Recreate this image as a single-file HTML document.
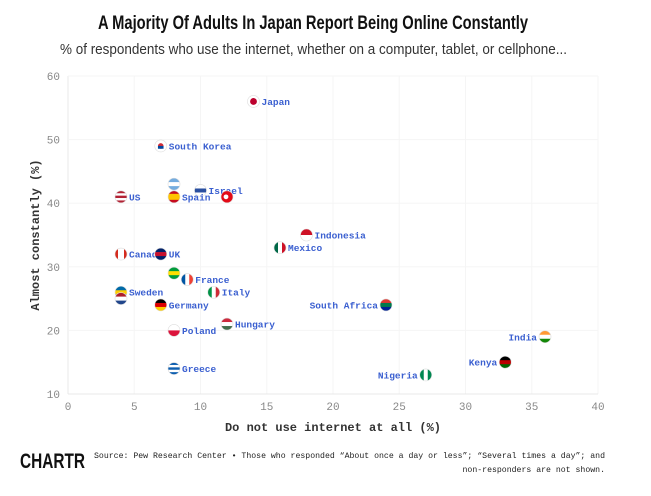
<!DOCTYPE html>
<html><head><meta charset="utf-8"><style>
body{margin:0;background:#fff;width:651px;height:491px;overflow:hidden;font-family:"Liberation Sans",sans-serif}
svg text{font-family:"Liberation Mono",monospace}
</style></head><body>
<svg id="c" width="651" height="491" viewBox="0 0 651 491" xmlns="http://www.w3.org/2000/svg">
<text x="98" y="29" textLength="430" lengthAdjust="spacingAndGlyphs" font-size="19" font-weight="bold" fill="#111" style="font-family:'Liberation Sans',sans-serif">A Majority Of Adults In Japan Report Being Online Constantly</text>
<text x="60" y="54" textLength="507" lengthAdjust="spacingAndGlyphs" font-size="15" fill="#333" style="font-family:'Liberation Sans',sans-serif">% of respondents who use the internet, whether on a computer, tablet, or cellphone...</text>
<g id="grid"></g><g id="pts"></g>
<text x="333" y="431" text-anchor="middle" font-size="12" font-weight="bold" fill="#333">Do not use internet at all (%)</text>
<text transform="translate(39,235) rotate(-90)" text-anchor="middle" font-size="12" font-weight="bold" fill="#333">Almost constantly (%)</text>
<text x="20" y="468" textLength="65" lengthAdjust="spacingAndGlyphs" font-size="21" font-weight="bold" fill="#111" style="font-family:'Liberation Sans',sans-serif">CHARTR</text>
<text x="605" y="458" text-anchor="end" font-size="8.2" fill="#222">Source: Pew Research Center • Those who responded “About once a day or less”; “Several times a day”; and</text>
<text x="605" y="472" text-anchor="end" font-size="8.2" fill="#222">non-responders are not shown.</text>
</svg>
<script>
const countries=["Japan","South Korea","Argentina","Israel","US","Spain","Turkey","Indonesia","Mexico","Canada","UK","Brazil","France","Sweden","Netherlands","Italy","Germany","South Africa","Hungary","Poland","India","Kenya","Greece","Nigeria"];
const notOnline=[14,7,8,10,4,8,12,18,16,4,7,8,9,4,4,11,7,24,12,8,36,33,8,27];
const constantly=[56,49,43,42,41,41,41,35,33,32,32,29,28,26,25,26,24,24,21,20,19,15,14,13];
const showLabel=[1,1,0,1,1,1,0,1,1,1,1,0,1,1,0,1,1,1,1,1,1,1,1,1];
const labelLeft=[0,0,0,0,0,0,0,0,0,0,0,0,0,0,0,0,0,1,0,0,1,1,0,1];
const xTicks=[0,5,10,15,20,25,30,35,40];
const yTicks=[10,20,30,40,50,60];
const flags={Japan:["h","#fff"],"South Korea":["h","#fff","#fff"],Argentina:["h","#74acdf","#fff","#74acdf"],Israel:["h","#fff","#2a4fa0","#fff"],US:["h","#b22234","#fff","#b22234","#fff","#b22234"],Spain:["h","#c60b1e","#ffc400","#ffc400","#c60b1e"],Turkey:["h","#e30a17"],Indonesia:["h","#ce1126","#fff"],Mexico:["v","#006847","#fff","#ce1126"],Canada:["v","#d52b1e","#fff","#fff","#d52b1e"],UK:["h","#012169","#c8102e","#012169"],Brazil:["h","#009c3b","#ffdf00","#009c3b"],France:["v","#0055a4","#fff","#ef4135"],Sweden:["h","#006aa7","#fecc00","#006aa7"],Netherlands:["h","#ae1c28","#fff","#21468b"],Italy:["v","#009246","#fff","#ce2b37"],Germany:["h","#000","#dd0000","#ffce00"],"South Africa":["h","#de3831","#007a4d","#002395"],Hungary:["h","#cd2a3e","#fff","#436f4d"],Poland:["h","#fff","#dc143c"],India:["h","#ff9933","#fff","#138808"],Kenya:["h","#000","#bb0000","#006600"],Greece:["h","#0d5eaf","#fff","#0d5eaf","#fff","#0d5eaf"],Nigeria:["v","#008751","#fff","#008751"]};
const NS="http://www.w3.org/2000/svg";
const X0=68,X1=598,Y0=394,Y1=76;
const xs=v=>X0+(v-0)/(40-0)*(X1-X0);
const ys=v=>Y0-(v-10)/(60-10)*(Y0-Y1);
function mk(t,a,p){const e=document.createElementNS(NS,t);for(const k in a)e.setAttribute(k,a[k]);p.appendChild(e);return e;}
const g=document.getElementById('grid'),P=document.getElementById('pts');
xTicks.forEach(t=>{const l=mk('line',{x1:xs(t),x2:xs(t),y1:Y1,y2:Y0,stroke:t===0?'#e8e8e8':'#f5f5f5'},g);


const tx=mk('text',{x:xs(t),y:Y0+16,'text-anchor':'middle','font-size':11,fill:'#888'},g);tx.textContent=t;

});
yTicks.forEach(t=>{const l=mk('line',{x1:X0,x2:X1,y1:ys(t),y2:ys(t),stroke:t===10?'#e8e8e8':'#f5f5f5'},g);


const tx=mk('text',{x:X0-8,y:ys(t)+4,'text-anchor':'end','font-size':11,fill:'#888'},g);tx.textContent=t;

});
const defs=mk('defs',{},P);
countries.forEach((c,i)=>{
 const cx=xs(notOnline[i]),cy=ys(constantly[i]),r=6;
 const gr=mk('g',{},P);
 
 
 const cp=mk('clipPath',{id:'cp'+i},defs);mk('circle',{cx:cx,cy:cy,r:r},cp);
 const f=flags[c],dir=f[0],cols=f.slice(1),n=cols.length;
 const fg=mk('g',{'clip-path':'url(#cp'+i+')'},gr);
 cols.forEach((col,k)=>{ if(dir==='h')mk('rect',{x:cx-r,y:cy-r+2*r*k/n,width:2*r,height:2*r/n+0.3,fill:col},fg);
  else mk('rect',{x:cx-r+2*r*k/n,y:cy-r,width:2*r/n+0.3,height:2*r,fill:col},fg);});
 if(c==='Japan')mk('circle',{cx:cx,cy:cy,r:3.4,fill:'#bc002d'},fg);
 if(c==='South Korea'){mk('circle',{cx:cx,cy:cy,r:2.8,fill:'#cd2e3a'},fg);mk('rect',{x:cx-2.8,y:cy,width:5.6,height:2.8,fill:'#0047a0'},fg);}
 if(c==='Turkey')mk('circle',{cx:cx-1,cy:cy,r:2.4,fill:'#fff'},fg);
 mk('circle',{cx:cx,cy:cy,r:r,fill:'none',stroke:'#ddd','stroke-width':0.6},gr);
 if(showLabel[i]){const tx=mk('text',{x:labelLeft[i]?cx-8:cx+8,y:cy+3.5,'text-anchor':labelLeft[i]?'end':'start','font-size':9.5,'font-weight':'bold',fill:'#3a5fd0'},gr);tx.textContent=c;
 
 }
});
</script>
</body></html>
